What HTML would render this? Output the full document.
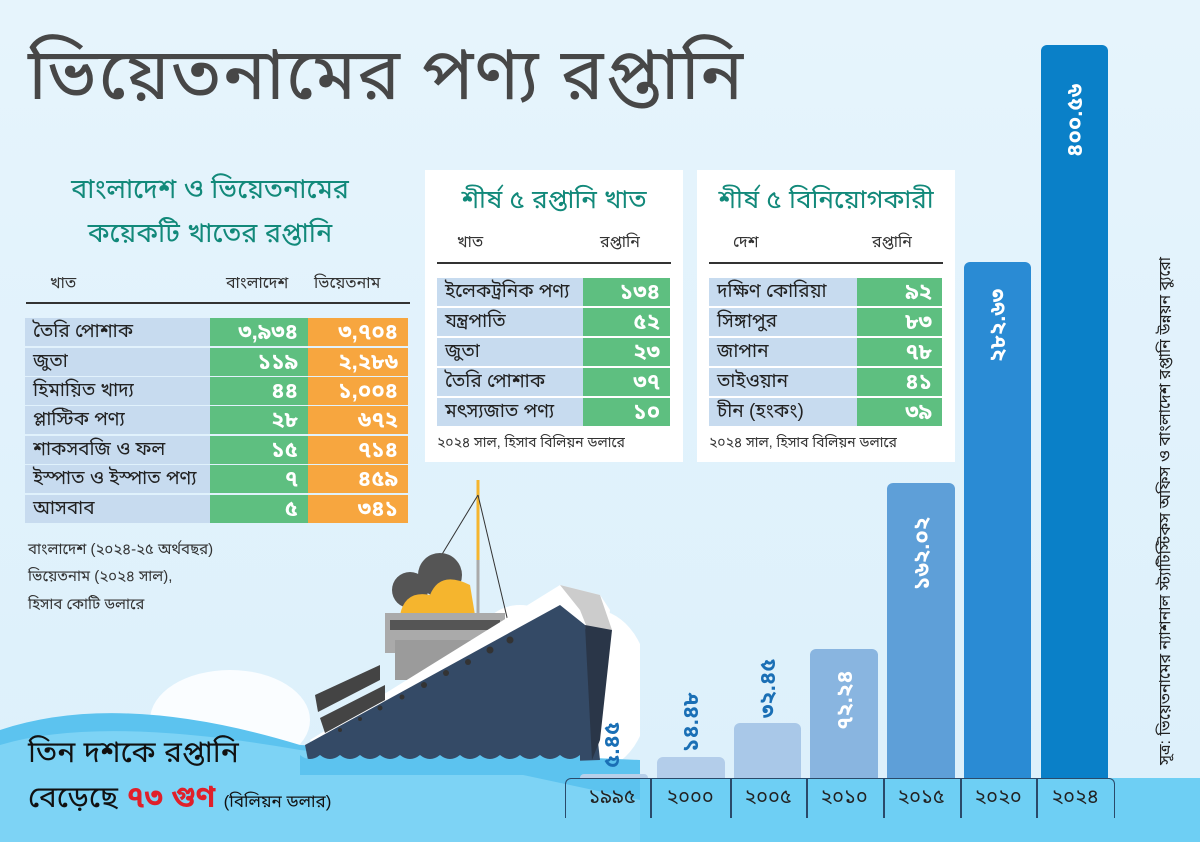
<!DOCTYPE html>
<html><head><meta charset="utf-8">
<style>
*{margin:0;padding:0;box-sizing:border-box}
body{width:1200px;height:842px;overflow:hidden;position:relative;background:linear-gradient(180deg,#e6f4fc 0%,#dcf0fb 100%);font-family:"Liberation Sans","Noto Sans Bengali","Lohit Bengali",sans-serif;color:#333}
.a{position:absolute;white-space:nowrap}
.title{left:28px;top:34px;font-size:72px;color:#474747;letter-spacing:1px}
.lt{color:#12897a;font-size:27px;text-align:center;width:420px;left:0}
.row{position:absolute;height:28px;font-size:19px;line-height:28px}
.lab{background:#c7dbef;padding-left:8px;color:#222}
.g{background:#5ebf80;color:#fff;text-align:right;padding-right:10px;font-weight:bold;font-size:22px}
.o{background:#f7a63f;color:#fff;text-align:right;padding-right:10px;font-weight:bold;font-size:22px}
.box{position:absolute;background:#fff;top:170px;width:258px;height:292px}
.bt{color:#12897a;font-size:26px;position:absolute;top:14px;width:100%;text-align:center}
.hd{font-size:16px;position:absolute;top:62px}
.ln{position:absolute;height:1.5px;background:#333}
.note{font-size:15px;color:#333}
.bar{position:absolute;bottom:64px;border-radius:6px 6px 0 0}
.bv{position:absolute;font-weight:bold;font-size:22px;line-height:24px;transform:rotate(-90deg);transform-origin:left top;white-space:nowrap}
.yr{position:absolute;top:786px;font-size:20px;color:#222;width:76px;text-align:center}
</style></head><body>

<div class="a title">ভিয়েতনামের পণ্য রপ্তানি</div>

<div class="a lt" style="top:174px">বাংলাদেশ ও ভিয়েতনামের</div>
<div class="a lt" style="top:218px">কয়েকটি খাতের রপ্তানি</div>
<div class="a" style="left:50px;top:273px;font-size:16px">খাত</div>
<div class="a" style="left:226px;top:273px;font-size:16px">বাংলাদেশ</div>
<div class="a" style="left:314px;top:273px;font-size:16px">ভিয়েতনাম</div>
<div class="ln" style="left:26px;top:302px;width:384px"></div>

<div class="row lab" style="left:25px;top:318px;width:185px">তৈরি পোশাক</div><div class="row g" style="left:210px;top:318px;width:98px">৩,৯৩৪</div><div class="row o" style="left:308px;top:318px;width:100px">৩,৭০৪</div>
<div class="row lab" style="left:25px;top:348px;width:185px">জুতা</div><div class="row g" style="left:210px;top:348px;width:98px">১১৯</div><div class="row o" style="left:308px;top:348px;width:100px">২,২৮৬</div>
<div class="row lab" style="left:25px;top:377px;width:185px">হিমায়িত খাদ্য</div><div class="row g" style="left:210px;top:377px;width:98px">৪৪</div><div class="row o" style="left:308px;top:377px;width:100px">১,০০৪</div>
<div class="row lab" style="left:25px;top:406px;width:185px">প্লাস্টিক পণ্য</div><div class="row g" style="left:210px;top:406px;width:98px">২৮</div><div class="row o" style="left:308px;top:406px;width:100px">৬৭২</div>
<div class="row lab" style="left:25px;top:436px;width:185px">শাকসবজি ও ফল</div><div class="row g" style="left:210px;top:436px;width:98px">১৫</div><div class="row o" style="left:308px;top:436px;width:100px">৭১৪</div>
<div class="row lab" style="left:25px;top:465px;width:185px">ইস্পাত ও ইস্পাত পণ্য</div><div class="row g" style="left:210px;top:465px;width:98px">৭</div><div class="row o" style="left:308px;top:465px;width:100px">৪৫৯</div>
<div class="row lab" style="left:25px;top:495px;width:185px">আসবাব</div><div class="row g" style="left:210px;top:495px;width:98px">৫</div><div class="row o" style="left:308px;top:495px;width:100px">৩৪১</div>

<div class="a note" style="left:28px;top:541px">বাংলাদেশ  (২০২৪-২৫ অর্থবছর)</div>
<div class="a note" style="left:28px;top:568px">ভিয়েতনাম (২০২৪ সাল),</div>
<div class="a note" style="left:28px;top:596px">হিসাব কোটি ডলারে</div>

<div class="box" style="left:425px">
 <div class="bt">শীর্ষ ৫ রপ্তানি খাত</div>
 <div class="hd" style="left:32px">খাত</div><div class="hd" style="left:175px">রপ্তানি</div>
 <div class="ln" style="left:12px;top:92px;width:234px"></div>
 <div class="row lab" style="left:12px;top:108px;width:146px">ইলেকট্রনিক পণ্য</div><div class="row g" style="left:158px;top:108px;width:87px">১৩৪</div>
 <div class="row lab" style="left:12px;top:138px;width:146px">যন্ত্রপাতি</div><div class="row g" style="left:158px;top:138px;width:87px">৫২</div>
 <div class="row lab" style="left:12px;top:168px;width:146px">জুতা</div><div class="row g" style="left:158px;top:168px;width:87px">২৩</div>
 <div class="row lab" style="left:12px;top:198px;width:146px">তৈরি পোশাক</div><div class="row g" style="left:158px;top:198px;width:87px">৩৭</div>
 <div class="row lab" style="left:12px;top:228px;width:146px">মৎস্যজাত পণ্য</div><div class="row g" style="left:158px;top:228px;width:87px">১০</div>
 <div class="a note" style="left:12px;top:264px;font-size:14px">২০২৪ সাল, হিসাব বিলিয়ন ডলারে</div>
</div>

<div class="box" style="left:697px">
 <div class="bt">শীর্ষ ৫ বিনিয়োগকারী</div>
 <div class="hd" style="left:36px">দেশ</div><div class="hd" style="left:175px">রপ্তানি</div>
 <div class="ln" style="left:12px;top:92px;width:234px"></div>
 <div class="row lab" style="left:12px;top:108px;width:148px">দক্ষিণ কোরিয়া</div><div class="row g" style="left:160px;top:108px;width:85px">৯২</div>
 <div class="row lab" style="left:12px;top:138px;width:148px">সিঙ্গাপুর</div><div class="row g" style="left:160px;top:138px;width:85px">৮৩</div>
 <div class="row lab" style="left:12px;top:168px;width:148px">জাপান</div><div class="row g" style="left:160px;top:168px;width:85px">৭৮</div>
 <div class="row lab" style="left:12px;top:198px;width:148px">তাইওয়ান</div><div class="row g" style="left:160px;top:198px;width:85px">৪১</div>
 <div class="row lab" style="left:12px;top:228px;width:148px">চীন (হংকং)</div><div class="row g" style="left:160px;top:228px;width:85px">৩৯</div>
 <div class="a note" style="left:12px;top:264px;font-size:14px">২০২৪ সাল, হিসাব বিলিয়ন ডলারে</div>
</div>

<div class="a" style="left:0;top:778px;width:1200px;height:64px;background:#6ecff4"></div>

<svg class="a" style="left:0;top:440px" width="640" height="402" viewBox="0 440 640 402">
 <ellipse cx="230" cy="720" rx="80" ry="50" fill="#fff" opacity=".85"/>
 <ellipse cx="595" cy="690" rx="55" ry="80" fill="#fff"/>
 <ellipse cx="520" cy="640" rx="40" ry="35" fill="#fff"/>
 <path d="M0 730 Q120 690 300 745 L640 760 L640 842 L0 842 Z" fill="#5cc3ef"/>
 <path d="M0 745 Q100 715 300 750 L500 770 L640 800 L640 842 L0 842 Z" fill="#7dd3f5"/>
 <line x1="478" y1="480" x2="478" y2="640" stroke="#aaa" stroke-width="3"/>
 <line x1="478" y1="480" x2="478" y2="560" stroke="#f5b52e" stroke-width="3"/>
 <line x1="478" y1="495" x2="390" y2="640" stroke="#333"/>
 <line x1="478" y1="495" x2="510" y2="630" stroke="#333"/>
 <circle cx="440" cy="575" r="22" fill="#555"/><circle cx="410" cy="590" r="18" fill="#555"/>
 <path d="M400 615 Q405 590 430 595 Q440 570 470 585 L475 615 Z" fill="#f5b52e"/>
 <rect x="385" y="613" width="120" height="40" fill="#aaa"/>
 <rect x="390" y="620" width="110" height="10" fill="#555"/>
 <rect x="395" y="640" width="95" height="40" fill="#9b9b9b"/>
 <path d="M310 740 L560 585 L600 595 L610 610 L595 740 L320 760 Z" fill="#fff"/>
 <path d="M305 745 L560 605 L585 625 L600 760 L310 770 Z" fill="#344a66"/>
 <path d="M560 585 L600 595 L612 630 L592 640 L580 610 Z" fill="#ccc"/>
 <path d="M585 625 L612 630 L600 740 L592 760 Z" fill="#2a3648"/>
 <path d="M315 695 L380 665 L380 680 L318 712 Z" fill="#444"/>
 <path d="M320 718 L385 685 L385 700 L325 733 Z" fill="#444"/>
 <g fill="#333"><circle cx="510" cy="640" r="3.5"/><circle cx="490" cy="650" r="3.5"/><circle cx="468" cy="662" r="3"/><circle cx="446" cy="673" r="3"/><circle cx="424" cy="685" r="3"/><circle cx="402" cy="697" r="2.5"/><circle cx="380" cy="708" r="2.5"/><circle cx="360" cy="719" r="2"/><circle cx="340" cy="730" r="2"/></g>
 <path d="M300 755 q10 8 20 0 q10 8 20 0 q10 8 20 0 q10 8 20 0 q10 8 20 0 q10 8 20 0 q10 8 20 0 q10 8 20 0 q10 8 20 0 q10 8 20 0 q10 8 20 0 q10 8 20 0 q10 8 20 0 q10 8 20 0 L580 775 L300 775Z" fill="#5cc3ef"/>
</svg>

<div class="a" style="left:28px;top:735px;font-size:30px;color:#111">তিন দশকে রপ্তানি</div>
<div class="a" style="left:28px;top:780px;font-size:30px;color:#111">বেড়েছে <span style="color:#e0202a;font-weight:bold">৭৩ গুণ</span> <span style="font-size:17px">(বিলিয়ন ডলার)</span></div>

<div class="bar" style="left:580px;width:68px;height:4px;background:#b8d0ea"></div>
<div class="bar" style="left:657px;width:68px;height:21px;background:#b3cdea"></div>
<div class="bar" style="left:734px;width:67px;height:55px;background:#a9c8e8"></div>
<div class="bar" style="left:810px;width:68px;height:129px;background:#89b5e0"></div>
<div class="bar" style="left:887px;width:68px;height:295px;background:#5e9fd8"></div>
<div class="bar" style="left:964px;width:67px;height:516px;background:#2a8bd4"></div>
<div class="bar" style="left:1041px;width:67px;height:733px;background:#0a80c8"></div>

<div class="bv" style="left:600px;top:768px;color:#1a6fb5">৫.৪৫</div>
<div class="bv" style="left:679px;top:752px;color:#1a6fb5">১৪.৪৮</div>
<div class="bv" style="left:756px;top:718px;color:#1a6fb5">৩২.৪৫</div>
<div class="bv" style="left:833px;top:730px;color:#fff">৭২.২৪</div>
<div class="bv" style="left:910px;top:590px;color:#fff">১৬২.০২</div>
<div class="bv" style="left:986px;top:362px;color:#fff">২৮২.৬৩</div>
<div class="bv" style="left:1063px;top:157px;color:#fff">৪০০.৫৬</div>

<div class="a" style="left:565px;top:778px;width:550px;height:40px;border:1.5px solid #2a4a6a;border-bottom:none;border-radius:6px 6px 0 0"></div>
<div class="a" style="left:650px;top:778px;width:1.5px;height:40px;background:#2a4a6a"></div>
<div class="a" style="left:730px;top:778px;width:1.5px;height:40px;background:#2a4a6a"></div>
<div class="a" style="left:806px;top:778px;width:1.5px;height:40px;background:#2a4a6a"></div>
<div class="a" style="left:883px;top:778px;width:1.5px;height:40px;background:#2a4a6a"></div>
<div class="a" style="left:960px;top:778px;width:1.5px;height:40px;background:#2a4a6a"></div>
<div class="a" style="left:1036px;top:778px;width:1.5px;height:40px;background:#2a4a6a"></div>
<div class="yr" style="left:574px">১৯৯৫</div>
<div class="yr" style="left:652px">২০০০</div>
<div class="yr" style="left:730px">২০০৫</div>
<div class="yr" style="left:806px">২০১০</div>
<div class="yr" style="left:883px">২০১৫</div>
<div class="yr" style="left:960px">২০২০</div>
<div class="yr" style="left:1037px">২০২৪</div>

<div class="a" style="left:1155px;top:765px;font-size:16px;color:#222;transform:rotate(-90deg);transform-origin:left top">সূত্র: ভিয়েতনামের ন্যাশনাল স্ট্যাটিস্টিকস অফিস ও বাংলাদেশ রপ্তানি উন্নয়ন ব্যুরো</div>
</body></html>
